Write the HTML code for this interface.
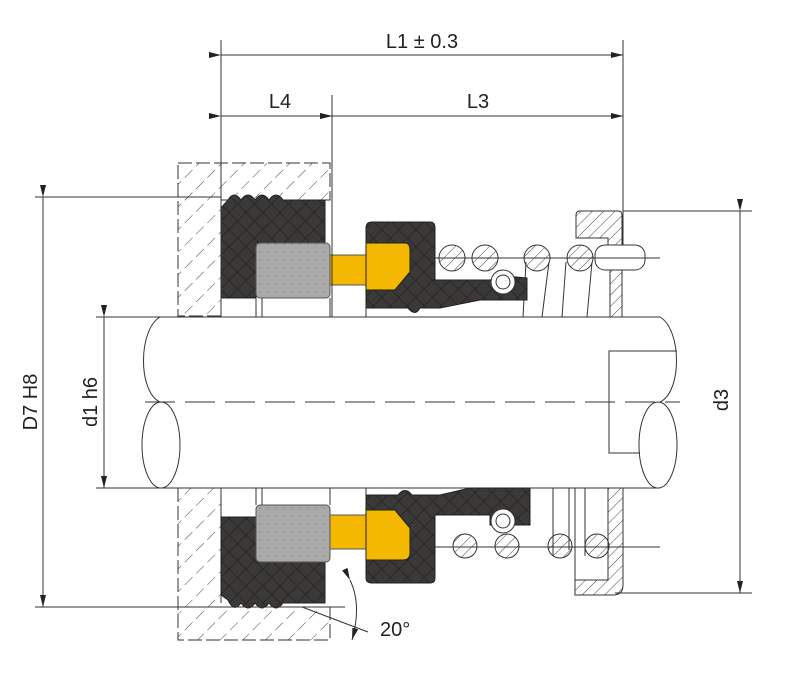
<!DOCTYPE html>
<html><head><meta charset="utf-8"><style>html,body{margin:0;padding:0;background:#fff}svg{display:block}</style></head>
<body>
<svg width="800" height="679" viewBox="0 0 800 679" xmlns="http://www.w3.org/2000/svg" font-family="Liberation Sans, Arial, sans-serif">
<defs>
<pattern id="hatch" width="16" height="16" patternUnits="userSpaceOnUse" patternTransform="rotate(45)">
<line x1="0" y1="0" x2="0" y2="16" stroke="#444" stroke-width="1" stroke-dasharray="11 5"/>
</pattern>
<pattern id="hatch2" width="8" height="8" patternUnits="userSpaceOnUse" patternTransform="rotate(45)">
<line x1="0" y1="0" x2="0" y2="8" stroke="#444" stroke-width="1"/>
</pattern>
<pattern id="cross" width="12" height="12" patternUnits="userSpaceOnUse" patternTransform="rotate(45)">
<rect width="12" height="12" fill="#3b3937"/>
<line x1="0" y1="0" x2="12" y2="0" stroke="#222" stroke-width="1.4"/>
<line x1="0" y1="0" x2="0" y2="12" stroke="#222" stroke-width="1.4"/>
</pattern>
<pattern id="dots" width="8" height="8" patternUnits="userSpaceOnUse">
<rect width="8" height="8" fill="#a9a9a9"/>
<circle cx="4" cy="4" r="0.8" fill="#888"/>
</pattern>
<marker id="ar" markerWidth="12" markerHeight="6" refX="12" refY="3" orient="auto" markerUnits="userSpaceOnUse">
<path d="M0,0 L12,3 L0,6 z" fill="#222"/>
</marker>
</defs>
<g stroke="#333" stroke-width="1" fill="none">
<path d="M178,163 H330 V200 H221 V316 H178 Z" fill="url(#hatch)" stroke-dasharray="14 4"/>
<path d="M178,488 H221 V607 H330 V640 H178 Z" fill="url(#hatch)" stroke-dasharray="14 4"/>
<line x1="160" y1="317" x2="660" y2="317"/>
<line x1="160" y1="488" x2="660" y2="488"/>
<path d="M160,317 C138,330 138,392 160,402"/>
<ellipse cx="161" cy="445" rx="19" ry="43"/>
<path d="M660,317 C682,330 682,392 660,402"/>
<ellipse cx="658" cy="445" rx="19" ry="43" fill="#fff"/>
<path d="M677,351 H609 V453 H640"/>
<line x1="145" y1="402" x2="680" y2="402" stroke-dasharray="30 10"/>
<path d="M221,298 V317 M256,298 V317 M262,298 V317 M330,298 V317 M366,298 V317"/>
<path d="M221,488 V517 M256,488 V505 M262,488 V505 M330,488 V505 M366,488 V495"/>
<path d="M228,200 Q234,190 241,200 Q248,190 255,200 Q262,190 269,200 Q276,190 283,200 H325 V243 H256 V298 H221 V208 Z" fill="url(#cross)" stroke="#222"/>
<rect x="256" y="243" width="74" height="55" rx="4" fill="url(#dots)" stroke="#555"/>
<path d="M221,517 H256 V560 H325 V603 H283 Q276,613 269,603 Q262,613 255,603 Q248,613 241,603 Q234,613 228,600 L221,595 Z" fill="url(#cross)" stroke="#222"/>
<rect x="256" y="505" width="74" height="57" rx="4" fill="url(#dots)" stroke="#555"/>
<path d="M330,255 H366 V243 H405 Q410,243 410,250 V272 L395,290 H366 V285 H330 Z" fill="#f4b800" stroke="#555"/>
<path d="M330,515 H366 V510 H395 L410,528 V553 Q410,560 403,560 H366 V549 H330 Z" fill="#f4b800" stroke="#555"/>
<path d="M366,228 Q366,222 372,222 H430 Q435,222 435,228 V280 H490 L505,276 L527,278 V300 H480 L440,308 H420 Q415,317 408,308 H366 Z M366,243 V290 H395 L410,272 V250 Q410,243 405,243 Z" fill="url(#cross)" fill-rule="evenodd" stroke="#222"/>
<path d="M366,495 H398 Q405,486 412,495 H440 L470,488 H530 V525 H490 V515 H435 V578 Q435,583 430,583 H372 Q366,583 366,578 Z M366,510 V560 H403 Q410,560 410,553 V528 L395,510 Z" fill="url(#cross)" fill-rule="evenodd" stroke="#222"/>
<g fill="#fff">
<circle cx="452" cy="258" r="13" fill="url(#hatch2)"/><circle cx="485" cy="258" r="13" fill="url(#hatch2)"/>
<circle cx="537" cy="258" r="13" fill="url(#hatch2)"/><circle cx="580" cy="258" r="13" fill="url(#hatch2)"/>
<circle cx="503" cy="282" r="12"/><circle cx="503" cy="282" r="7"/>
<circle cx="465" cy="546" r="12" fill="url(#hatch2)"/><circle cx="507" cy="546" r="12" fill="url(#hatch2)"/>
<circle cx="560" cy="546" r="12" fill="url(#hatch2)"/><circle cx="597" cy="546" r="12" fill="url(#hatch2)"/>
<circle cx="503" cy="521" r="12"/><circle cx="503" cy="521" r="7"/>
</g>
<path d="M526,262 L523,317 M549,262 L542,317 M566,262 L562,317 M592,262 L587,317"/>
<path d="M553,488 V556 M569,488 V550 M585,488 V556"/>
<path d="M576,215 Q576,211 580,211 H618 Q622,211 622,215 V245 H608 V238 H576 Z" fill="url(#hatch2)"/>
<rect x="610" y="270" width="12" height="47" fill="url(#hatch2)"/>
<rect x="595" y="245" width="50" height="25" rx="10" fill="#fff"/>
<line x1="430" y1="258" x2="660" y2="258"/>
<path d="M608,488 H623 V585 Q623,595 613,595 H575 V580 H608 Z" fill="url(#hatch2)"/>
<path d="M575,580 V488"/>
<line x1="430" y1="547" x2="660" y2="547"/>
<path d="M221,40 V317 M623,40 V245 M332,95 V317"/>
<line x1="221" y1="55" x2="623" y2="55" marker-start="url(#ar)" marker-end="url(#ar)"/>
<line x1="221" y1="116" x2="332" y2="116" marker-start="url(#ar)" marker-end="url(#ar)"/>
<line x1="332" y1="116" x2="623" y2="116" marker-start="url(#ar)" marker-end="url(#ar)"/>
<path d="M35,197 H221 M35,607 H345"/>
<line x1="43" y1="197" x2="43" y2="607" marker-start="url(#ar)" marker-end="url(#ar)"/>
<path d="M96,317 H160 M96,488 H160"/>
<line x1="104" y1="317" x2="104" y2="488" marker-start="url(#ar)" marker-end="url(#ar)"/>
<path d="M623,211 H752 M615,593 H752"/>
<line x1="740" y1="211" x2="740" y2="593" marker-start="url(#ar)" marker-end="url(#ar)"/>
<line x1="302" y1="607" x2="368" y2="632"/>
<path d="M350,580 Q362,605 352,640" marker-start="url(#ar)" marker-end="url(#ar)"/>
</g>
<g fill="#222" font-size="20">
<text x="422" y="48" text-anchor="middle">L1 ± 0.3</text>
<text x="280" y="108" text-anchor="middle">L4</text>
<text x="478" y="108" text-anchor="middle">L3</text>
<text x="380" y="636">20°</text>
<text transform="translate(37,402) rotate(-90)" text-anchor="middle">D7  H8</text>
<text transform="translate(97,402) rotate(-90)" text-anchor="middle">d1 h6</text>
<text transform="translate(728,400) rotate(-90)" text-anchor="middle">d3</text>
</g>
</svg>
</body></html>
